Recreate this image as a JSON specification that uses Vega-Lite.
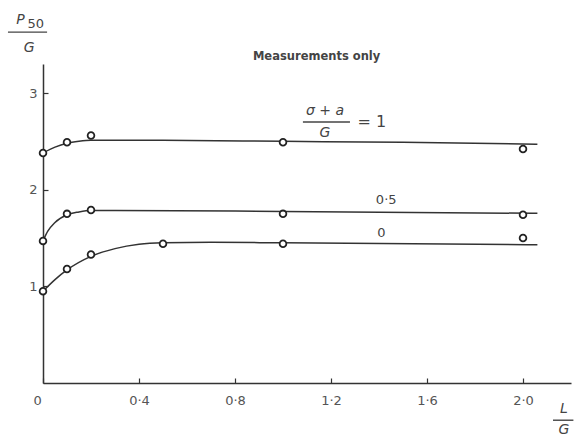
{
  "$schema": "https://vega.github.io/schema/vega-lite/v6.json",
  "width": 528,
  "height": 319,
  "autosize": {"type": "none"},
  "padding": {"left": 43, "top": 64, "right": 11, "bottom": 54},
  "background": "white",
  "config": {
    "view": {"stroke": null},
    "font": "DejaVu Sans",
    "axis": {
      "grid": false,
      "domainColor": "#333",
      "domainWidth": 1.5,
      "tickColor": "#333",
      "tickWidth": 1.2,
      "tickSize": -5,
      "labelFont": "DejaVu Sans",
      "labelFontSize": 13,
      "labelColor": "#555",
      "title": null
    }
  },
  "datasets": {
    "points": [
      {"L": 0, "P": 2.38, "s": "1"},
      {"L": 0.1, "P": 2.49, "s": "1"},
      {"L": 0.2, "P": 2.56, "s": "1"},
      {"L": 1.0, "P": 2.49, "s": "1"},
      {"L": 2.0, "P": 2.42, "s": "1"},
      {"L": 0, "P": 1.47, "s": "0.5"},
      {"L": 0.1, "P": 1.75, "s": "0.5"},
      {"L": 0.2, "P": 1.79, "s": "0.5"},
      {"L": 1.0, "P": 1.75, "s": "0.5"},
      {"L": 2.0, "P": 1.74, "s": "0.5"},
      {"L": 0, "P": 0.95, "s": "0"},
      {"L": 0.1, "P": 1.18, "s": "0"},
      {"L": 0.2, "P": 1.33, "s": "0"},
      {"L": 0.5, "P": 1.44, "s": "0"},
      {"L": 1.0, "P": 1.44, "s": "0"},
      {"L": 2.0, "P": 1.5, "s": "0"}
    ],
    "curves": [
      {"L": 0, "P": 2.38, "s": "1"},
      {"L": 0.05, "P": 2.44, "s": "1"},
      {"L": 0.1, "P": 2.48, "s": "1"},
      {"L": 0.15, "P": 2.5, "s": "1"},
      {"L": 0.2, "P": 2.51, "s": "1"},
      {"L": 0.5, "P": 2.51, "s": "1"},
      {"L": 1.0, "P": 2.5, "s": "1"},
      {"L": 1.5, "P": 2.49, "s": "1"},
      {"L": 2.06, "P": 2.47, "s": "1"},
      {"L": 0, "P": 1.47, "s": "0.5"},
      {"L": 0.02, "P": 1.57, "s": "0.5"},
      {"L": 0.05, "P": 1.66, "s": "0.5"},
      {"L": 0.1, "P": 1.74, "s": "0.5"},
      {"L": 0.15, "P": 1.77, "s": "0.5"},
      {"L": 0.2, "P": 1.785, "s": "0.5"},
      {"L": 0.3, "P": 1.785, "s": "0.5"},
      {"L": 1.0, "P": 1.775, "s": "0.5"},
      {"L": 2.06, "P": 1.755, "s": "0.5"},
      {"L": 0, "P": 0.95, "s": "0"},
      {"L": 0.05, "P": 1.07, "s": "0"},
      {"L": 0.1, "P": 1.17, "s": "0"},
      {"L": 0.2, "P": 1.31, "s": "0"},
      {"L": 0.3, "P": 1.39, "s": "0"},
      {"L": 0.4, "P": 1.435, "s": "0"},
      {"L": 0.5, "P": 1.45, "s": "0"},
      {"L": 0.7, "P": 1.455, "s": "0"},
      {"L": 1.0, "P": 1.45, "s": "0"},
      {"L": 2.06, "P": 1.43, "s": "0"}
    ],
    "italic": [
      {"x": 1.175, "y": 2.81, "t": "σ + a"},
      {"x": 1.175, "y": 2.59, "t": "G"},
      {"x": -0.094, "y": 3.76, "t": "P"},
      {"x": -0.058, "y": 3.47, "t": "G"},
      {"x": 2.17, "y": -0.27, "t": "L"},
      {"x": 2.17, "y": -0.49, "t": "G"}
    ],
    "plain": [
      {"x": 1.43, "y": 1.89, "t": "0·5"},
      {"x": 1.41, "y": 1.55, "t": "0"},
      {"x": -0.03, "y": 3.71, "t": "50"}
    ],
    "equals": [
      {"x": 1.37, "y": 2.7, "t": "= 1"}
    ],
    "bold": [
      {"x": 1.14, "y": 3.37, "t": "Measurements only"}
    ],
    "bars": [
      {"x": 1.083, "x2": 1.279, "y": 2.7},
      {"x": -0.146, "x2": 0.017, "y": 3.63},
      {"x": 2.125, "x2": 2.21, "y": -0.385}
    ]
  },
  "layer": [
    {
      "data": {"name": "curves"},
      "mark": {"type": "line", "interpolate": "monotone", "color": "#333", "strokeWidth": 1.5},
      "encoding": {
        "x": {
          "field": "L", "type": "quantitative",
          "scale": {"domain": [0, 2.2], "nice": false},
          "axis": {
            "values": [0, 0.4, 0.8, 1.2, 1.6, 2.0],
            "labelExpr": "datum.value == 0 ? '0' : replace(format(datum.value, '.1f'), '.', '·')",
            "labelPadding": 16,
            "labelOffset": {"condition": {"test": "datum.value == 0", "value": -10}, "value": 0}
          }
        },
        "y": {
          "field": "P", "type": "quantitative",
          "scale": {"domain": [0, 3.3], "nice": false},
          "axis": {"values": [1, 2, 3], "format": "d", "labelPadding": 11}
        },
        "detail": {"field": "s"}
      }
    },
    {
      "data": {"name": "points"},
      "mark": {"type": "point", "shape": "circle", "filled": false, "fill": "white", "stroke": "#222", "strokeWidth": 1.8, "size": 45, "opacity": 1},
      "encoding": {
        "x": {"field": "L", "type": "quantitative"},
        "y": {"field": "P", "type": "quantitative"}
      }
    },
    {
      "data": {"name": "italic"},
      "mark": {"type": "text", "fontStyle": "italic", "fontSize": 14, "color": "#444", "align": "center", "baseline": "middle"},
      "encoding": {
        "x": {"field": "x", "type": "quantitative"},
        "y": {"field": "y", "type": "quantitative"},
        "text": {"field": "t"}
      }
    },
    {
      "data": {"name": "plain"},
      "mark": {"type": "text", "fontSize": 13, "color": "#444", "align": "center", "baseline": "middle"},
      "encoding": {
        "x": {"field": "x", "type": "quantitative"},
        "y": {"field": "y", "type": "quantitative"},
        "text": {"field": "t"}
      }
    },
    {
      "data": {"name": "equals"},
      "mark": {"type": "text", "fontSize": 16, "color": "#444", "align": "center", "baseline": "middle"},
      "encoding": {
        "x": {"field": "x", "type": "quantitative"},
        "y": {"field": "y", "type": "quantitative"},
        "text": {"field": "t"}
      }
    },
    {
      "data": {"name": "bold"},
      "mark": {"type": "text", "fontSize": 11.5, "fontWeight": "bold", "color": "#444", "align": "center", "baseline": "middle"},
      "encoding": {
        "x": {"field": "x", "type": "quantitative"},
        "y": {"field": "y", "type": "quantitative"},
        "text": {"field": "t"}
      }
    },
    {
      "data": {"name": "bars"},
      "mark": {"type": "rule", "color": "#444", "strokeWidth": 1.4},
      "encoding": {
        "x": {"field": "x", "type": "quantitative"},
        "x2": {"field": "x2"},
        "y": {"field": "y", "type": "quantitative"}
      }
    }
  ]
}
